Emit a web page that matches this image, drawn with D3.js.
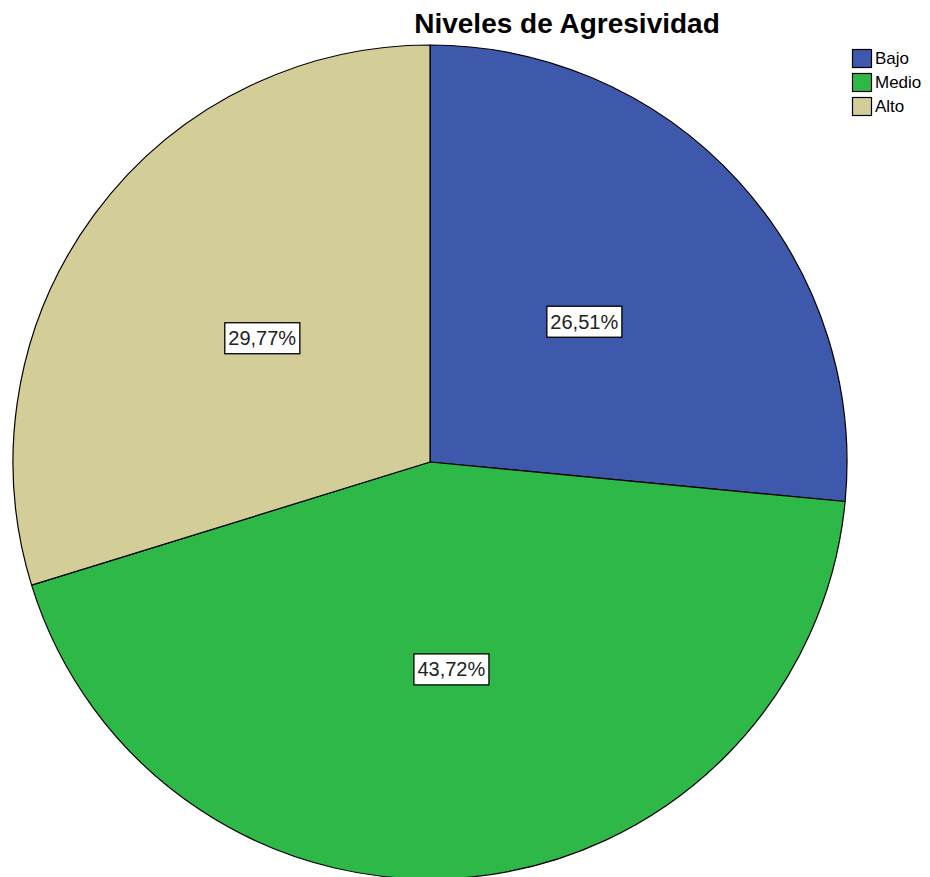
<!DOCTYPE html>
<html><head><meta charset="utf-8">
<script src="https://cdn.jsdelivr.net/npm/d3@7"></script>
<style>body{margin:0;background:#fff;} svg{display:block;}</style>
</head><body>
<svg id="c" width="930" height="877"></svg>
<script>
const categories = ["Bajo", "Medio", "Alto"];
const values = [26.51, 43.72, 29.77];
const labels = ["26,51%", "43,72%", "29,77%"];
const colors = ["#3E58AC", "#2EB848", "#D3CE97"];
const title = "Niveles de Agresividad";

const svg = d3.select("#c");
const cx = 430, cy = 462, R = 417;
const font = "'Liberation Sans', Arial, sans-serif";

svg.append("text").attr("x", 567).attr("y", 33).attr("text-anchor", "middle")
  .attr("font-family", font).attr("font-weight", "bold").attr("font-size", 28)
  .attr("fill", "#000").text(title);

const pie = d3.pie().sort(null).value(d => d)(values);
const arc = d3.arc().innerRadius(0).outerRadius(R);

const g = svg.append("g").attr("transform", `translate(${cx},${cy})`);
g.selectAll("path").data(pie).join("path")
  .attr("d", arc).attr("fill", (d, i) => colors[i])
  .attr("stroke", "#000").attr("stroke-width", 1.2).attr("stroke-linejoin", "round");

const lg = g.selectAll("g.lab").data(pie).join("g").attr("class", "lab")
  .attr("transform", d => { const c = arc.centroid(d); return `translate(${c[0]},${c[1]})`; });
lg.each(function(d, i) {
  const s = d3.select(this);
  const t = s.append("text").attr("text-anchor", "middle").attr("dy", "0.35em")
    .attr("font-family", font).attr("font-size", 20).attr("fill", "#222").text(labels[i]);
  const bb = t.node().getBBox();
  s.insert("rect", "text").attr("x", bb.x - 3.5).attr("y", -15.5)
    .attr("width", bb.width + 7).attr("height", 31)
    .attr("fill", "#fff").attr("stroke", "#000").attr("stroke-width", 1.3);
});

const leg = svg.append("g").attr("transform", "translate(852,49)");
const rows = leg.selectAll("g").data(categories).join("g")
  .attr("transform", (d, i) => `translate(0,${i * 24})`);
rows.append("rect").attr("x", 0.5).attr("y", 0.5).attr("width", 19).attr("height", 18)
  .attr("fill", (d, i) => colors[i]).attr("stroke", "#000").attr("stroke-width", 1.2);
rows.append("text").attr("x", 23).attr("y", 9.5).attr("dy", "0.35em")
  .attr("font-family", font).attr("font-size", 17).attr("fill", "#000").text(d => d);
</script>
</body></html>
